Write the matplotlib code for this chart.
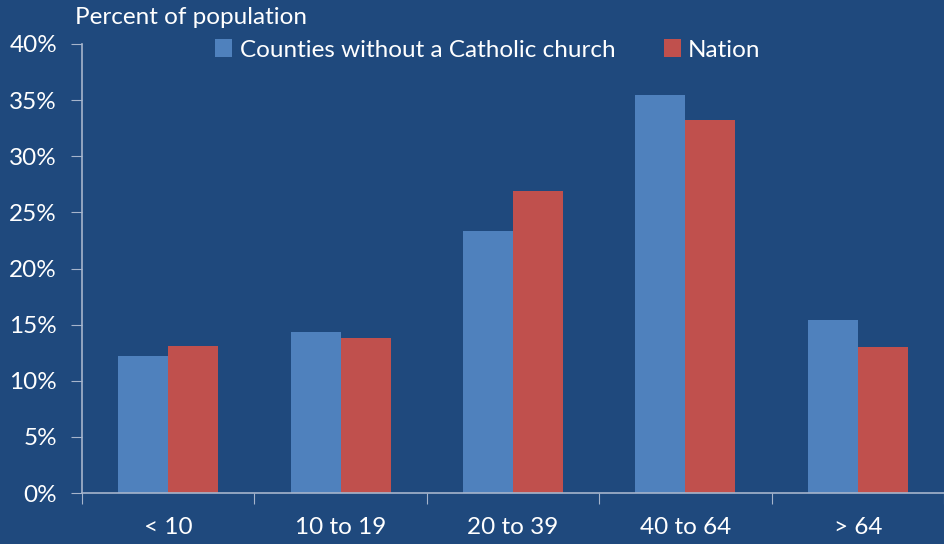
import numpy as np
import matplotlib
matplotlib.use('Agg')
import matplotlib.pyplot as plt
from matplotlib.ticker import FuncFormatter

categories = ['< 10', '10 to 19', '20 to 39', '40 to 64', '> 64']
counties = [12.2, 14.3, 23.3, 35.5, 15.4]
nation = [13.1, 13.8, 26.9, 33.2, 13.0]

bg = '#1F497D'
axis_col = '#A6B5CC'
plt.rcParams['font.family'] = ['Lato', 'DejaVu Sans']
fs = 17.5

fig = plt.figure(figsize=(9.44, 5.44), dpi=100)
fig.patch.set_facecolor(bg)
ax = fig.add_axes([82 / 944, 1 - 493 / 544, 862 / 944, 449 / 544])
ax.set_facecolor(bg)

x = np.arange(len(categories))
w = 0.29
ax.bar(x - w / 2, counties, w, color='#4F81BD', label='Counties without a Catholic church')
ax.bar(x + w / 2, nation, w, color='#C0504D', label='Nation')

ax.set_xlim(-0.5, len(categories) - 0.5)
ax.set_ylim(0, 40)
ax.set_yticks(np.arange(0, 41, 5))
ax.yaxis.set_major_formatter(FuncFormatter(lambda v, p: f'{v:.0f}%'))

# category labels centred, tick marks at the boundaries
ax.set_xticks(np.arange(-0.5, len(categories), 1))
ax.set_xticklabels([])
ax.set_xticks(x, minor=True)
ax.set_xticklabels(categories, minor=True)
ax.tick_params(axis='x', which='minor', length=0, pad=17, labelsize=fs, colors='white')
ax.tick_params(axis='x', which='major', length=8, color=axis_col, direction='out')
ax.tick_params(axis='y', length=8, color=axis_col, labelsize=fs, labelcolor='white', pad=10)

for s in ['top', 'right']:
    ax.spines[s].set_visible(False)
for s in ['left', 'bottom']:
    ax.spines[s].set_color(axis_col)
    ax.spines[s].set_linewidth(1.2)

fig.text(75 / 944, 1 - 18 / 544, 'Percent of population', color='white', fontsize=fs,
         ha='left', va='center')

leg = fig.legend(loc='center', bbox_to_anchor=(488 / 944, 1 - 50 / 544), ncol=2,
                 frameon=False, fontsize=fs, labelcolor='white', handlelength=0.7,
                 handleheight=0.7, handletextpad=0.3, columnspacing=2.0)

fig.savefig('out.png', dpi=100, facecolor=bg)
